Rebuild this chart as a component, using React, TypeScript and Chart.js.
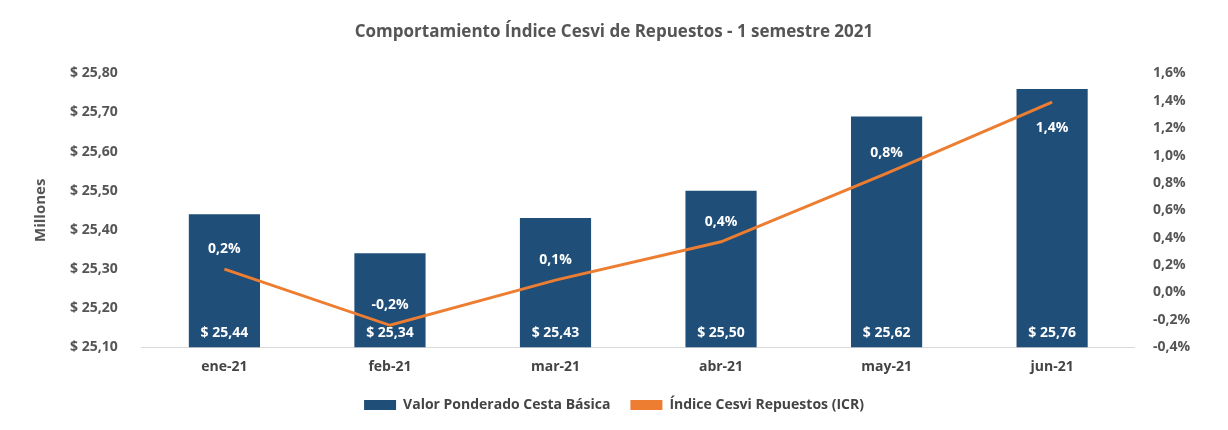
import React, { useEffect, useRef } from "react";
import { Chart, registerables } from "chart.js";
Chart.register(...registerables);

const categories = ["ene-21", "feb-21", "mar-21", "abr-21", "may-21", "jun-21"];
const barValues = [25.44, 25.34, 25.43, 25.5, 25.69, 25.76];
const barLabels = ["$ 25,44", "$ 25,34", "$ 25,43", "$ 25,50", "$ 25,62", "$ 25,76"];
const icrValues = [0.17, -0.24, 0.09, 0.37, 0.87, 1.39];
const icrLabels = ["0,2%", "-0,2%", "0,1%", "0,4%", "0,8%", "1,4%"];

const FONT = "'Open Sans', sans-serif";

const labelPlugin = {
  id: "labels",
  afterDatasetsDraw(chart: any) {
    const ctx = chart.ctx;
    ctx.save();
    ctx.fillStyle = "#fff";
    ctx.font = `bold 14px ${FONT}`;
    ctx.textAlign = "center";
    ctx.textBaseline = "middle";
    const bars = chart.getDatasetMeta(0).data;
    const yb = chart.scales.y.bottom;
    bars.forEach((b: any, i: number) => ctx.fillText(barLabels[i], b.x, yb - 14));
    const pts = chart.getDatasetMeta(1).data;
    pts.forEach((p: any, i: number) => {
      const dy = i === 5 ? 26 : -20;
      ctx.fillText(icrLabels[i], p.x, p.y + dy);
    });
    ctx.restore();
  },
};

export default function App() {
  const ref = useRef<HTMLCanvasElement>(null);
  useEffect(() => {
    const c = new Chart(ref.current!, {
      data: {
        labels: categories,
        datasets: [
          {
            type: "bar",
            label: "Valor Ponderado Cesta Básica",
            data: barValues,
            backgroundColor: "#1f4e79",
            yAxisID: "y",
            categoryPercentage: 1,
            barPercentage: 0.43,
            order: 2,
          },
          {
            type: "line",
            label: "Índice Cesvi Repuestos (ICR)",
            data: icrValues,
            borderColor: "#ed7d31",
            backgroundColor: "#ed7d31",
            borderWidth: 3,
            pointRadius: 0,
            yAxisID: "y1",
            order: 1,
          },
        ] as any,
      },
      options: {
        animation: false,
        responsive: true,
        maintainAspectRatio: false,
        layout: { padding: { left: 20, right: 20, top: 0, bottom: 0 } },
        plugins: {
          title: {
            display: true,
            text: "Comportamiento Índice Cesvi de Repuestos - 1 semestre 2021",
            color: "#555",
            font: { family: FONT, size: 17, weight: "bold" },
            padding: { top: 14, bottom: 31 },
          },
          legend: {
            position: "bottom",
            labels: {
              color: "#444",
              font: { family: FONT, size: 14, weight: "bold" },
              boxWidth: 32,
              boxHeight: 10,
              padding: 20,
              generateLabels: (ch: any) =>
                ch.data.datasets.map((d: any, i: number) => ({
                  text: d.label,
                  fillStyle: d.backgroundColor,
                  strokeStyle: d.backgroundColor,
                  lineWidth: 0,
                  datasetIndex: i,
                  fontColor: "#444",
                })),
            },
          },
          tooltip: { enabled: false },
        },
        scales: {
          x: {
            grid: { display: false },
            border: { color: "#d9d9d9" },
            ticks: { color: "#444", font: { family: FONT, size: 14, weight: "bold" } },
          },
          y: {
            min: 25.1,
            max: 25.8,
            grid: { display: false },
            border: { display: false },
            title: { display: true, text: "Millones", color: "#555", font: { family: FONT, size: 15, weight: "bold" } },
            ticks: {
              stepSize: 0.1,
              color: "#555",
              padding: 16,
              font: { family: FONT, size: 14, weight: "bold" },
              callback: (v: any) => "$ " + Number(v).toFixed(2).replace(".", ","),
            },
          },
          y1: {
            position: "right",
            min: -0.4,
            max: 1.6,
            grid: { display: false },
            border: { display: false },
            ticks: {
              stepSize: 0.2,
              color: "#555",
              padding: 10,
              font: { family: FONT, size: 14, weight: "bold" },
              callback: (v: any) => Number(v).toFixed(1).replace(".", ",") + "%",
            },
          },
        },
      } as any,
      plugins: [labelPlugin],
    });
    return () => c.destroy();
  }, []);
  return (
    <div style={{ width: 1212, height: 414 }}>
      <canvas ref={ref} />
    </div>
  );
}
